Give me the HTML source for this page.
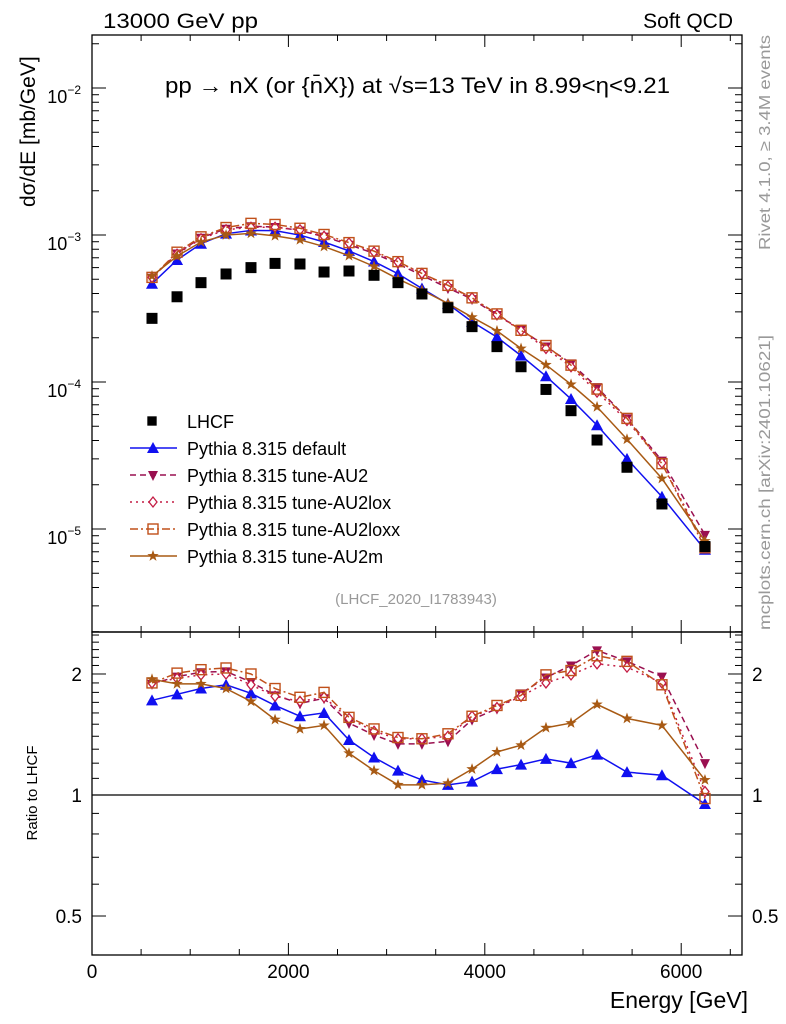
<!DOCTYPE html>
<html><head><meta charset="utf-8"><style>
html,body{margin:0;padding:0;background:#fff}
svg{display:block;font-family:"Liberation Sans",sans-serif}
</style></head><body>
<svg id="chart" width="786" height="1024" viewBox="0 0 786 1024" xmlns="http://www.w3.org/2000/svg">
<g id="frame"></g>
<g id="marks"></g>
<text x="103" y="28" font-size="21" textLength="155" lengthAdjust="spacingAndGlyphs">13000 GeV pp</text>
<text x="733" y="28" font-size="21" text-anchor="end">Soft QCD</text>
<text x="165" y="93" font-size="22" textLength="505" lengthAdjust="spacingAndGlyphs">pp → nX (or {n̄X}) at √s=13 TeV in 8.99&lt;η&lt;9.21</text>
<text x="416" y="604" font-size="15" fill="#999" text-anchor="middle">(LHCF_2020_I1783943)</text>
<text transform="translate(35,207) rotate(-90)" font-size="21">dσ/dE [mb/GeV]</text>
<text transform="translate(37,793) rotate(-90)" font-size="15" text-anchor="middle">Ratio to LHCF</text>
<text x="748" y="1008" font-size="23" text-anchor="end">Energy [GeV]</text>
<text transform="translate(770,250) rotate(-90)" font-size="16" fill="#999" textLength="215" lengthAdjust="spacingAndGlyphs">Rivet 4.1.0, ≥ 3.4M events</text>
<text transform="translate(770,630) rotate(-90)" font-size="16" fill="#999" textLength="295" lengthAdjust="spacingAndGlyphs">mcplots.cern.ch [arXiv:2401.10621]</text>
<g id="legend"></g>
</svg>
<script>
const energies=[611,866,1110,1365,1619,1864,2118,2363,2617,2872,3116,3360,3625,3870,4124,4369,4623,4878,5143,5448,5804,6242];
const lhcf=[2.71e-4,3.80e-4,4.74e-4,5.43e-4,6.00e-4,6.41e-4,6.35e-4,5.60e-4,5.69e-4,5.32e-4,4.74e-4,3.97e-4,3.20e-4,2.38e-4,1.74e-4,1.27e-4,8.9e-5,6.38e-5,4.03e-5,2.63e-5,1.48e-5,7.6e-6];
const ratioDefault=[1.72,1.78,1.84,1.88,1.79,1.67,1.57,1.60,1.37,1.24,1.15,1.09,1.06,1.08,1.16,1.19,1.23,1.20,1.26,1.14,1.12,0.95];
const ratioAU2=[1.89,1.97,2.02,2.03,1.91,1.77,1.69,1.74,1.51,1.41,1.34,1.34,1.36,1.54,1.64,1.79,1.96,2.10,2.29,2.15,1.97,1.20];
const ratioAU2lox=[1.90,1.95,1.99,2.00,1.88,1.76,1.71,1.75,1.55,1.44,1.38,1.38,1.40,1.57,1.65,1.76,1.90,1.99,2.12,2.08,1.90,1.02];
const ratioAU2loxx=[1.90,2.01,2.05,2.07,2.00,1.84,1.75,1.80,1.56,1.46,1.39,1.38,1.42,1.57,1.67,1.77,1.99,2.04,2.22,2.15,1.88,0.98];
const ratioAU2m=[1.94,1.89,1.89,1.84,1.71,1.54,1.46,1.49,1.27,1.15,1.06,1.06,1.07,1.16,1.28,1.33,1.47,1.51,1.68,1.55,1.49,1.09];
const xTicks=[0,2000,4000,6000];
const yTicks=[-2,-3,-4,-5];
const rTicks=[0.5,1,2];

const NS="http://www.w3.org/2000/svg";
const L=92,R=742,T=35,M=632,B=955;
const xs=e=>L+e*0.0982;
const ys=v=>235-147*(Math.log10(v)+3);
const yr=r=>795-402*Math.log10(r);
function mk(tag,at,parent){const e=document.createElementNS(NS,tag);for(const k in at)e.setAttribute(k,at[k]);parent.appendChild(e);return e;}
const frame=document.getElementById('frame'),marks=document.getElementById('marks'),legend=document.getElementById('legend');

let r1=mk('rect',{x:L,y:T,width:R-L,height:M-T,fill:'none',stroke:'#000','stroke-width':1.3},frame);


let r2=mk('rect',{x:L,y:M,width:R-L,height:B-M,fill:'none',stroke:'#000','stroke-width':1.3},frame);


for(let e=0;e<=6500;e+=500){
  const x=xs(e),len=(e%2000===0)?12:6;
  for(const [y0,d] of [[T,1],[M,-1],[M,1],[B,-1]]){
    let t=mk('line',{x1:x,x2:x,y1:y0,y2:y0+d*len,stroke:'#000'},frame);
    
    
  }
}
xTicks.forEach(e=>{let t=mk('text',{x:xs(e),y:978,'font-size':19,'text-anchor':'middle'},frame);t.textContent=e;
  
  });
for(let d=-6;d<=-1;d++){for(let m=1;m<=9;m++){
  const y=ys(m*Math.pow(10,d));if(y<T||y>M)continue;const len=m===1?14:7;
  for(const [x0,s] of [[L,1],[R,-1]]){let t=mk('line',{x1:x0,x2:x0+s*len,y1:y,y2:y,stroke:'#000'},frame);
    
    }
}}
yTicks.forEach(d=>{const y=ys(Math.pow(10,d));let t=mk('text',{x:81,y:y+15,'font-size':18,'text-anchor':'end'},frame);t.textContent='10';
  let s=mk('tspan',{dy:-9,'font-size':12},t);s.textContent='−'+(-d);
  
  });
for(let v=0.4;v<=2.55;v+=0.1){const vv=Math.round(v*10)/10;const y=yr(vv);if(y<M||y>B)continue;
  const maj=rTicks.includes(vv);const len=maj?14:7;
  for(const [x0,s] of [[L,1],[R,-1]]){let t=mk('line',{x1:x0,x2:x0+s*len,y1:y,y2:y,stroke:'#000'},frame);
    
    }}
rTicks.forEach(v=>{for(const [x,a] of [[82,'end'],[752,'start']]){let t=mk('text',{x:x,y:yr(v)+7,'font-size':19,'text-anchor':a},frame);t.textContent=v;
  
  }});
let one=mk('line',{x1:L,x2:R,y1:yr(1),y2:yr(1),stroke:'#000','stroke-width':1.2},frame);



function marker(type,x,y,color,parent,sz){
  sz=sz||1;let e;
  if(type==='sq')e=mk('rect',{x:x-5.5*sz,y:y-5.5*sz,width:11*sz,height:11*sz,fill:'#000'},parent);
  else if(type==='tri')e=mk('polygon',{points:`${x},${y-6} ${x-6},${y+5} ${x+6},${y+5}`,fill:color},parent);
  else if(type==='dtri')e=mk('polygon',{points:`${x},${y+6} ${x-5},${y-4} ${x+5},${y-4}`,fill:color},parent);
  else if(type==='dia')e=mk('polygon',{points:`${x},${y-5} ${x+4},${y} ${x},${y+5} ${x-4},${y}`,fill:'#fff',stroke:color,'stroke-width':1.3},parent);
  else if(type==='osq')e=mk('rect',{x:x-5,y:y-5,width:10,height:10,fill:'none',stroke:color,'stroke-width':1.4},parent);
  else {let p='';for(let i=0;i<10;i++){const rr=i%2?2.4:6,a=-Math.PI/2+i*Math.PI/5;p+=`${x+rr*Math.cos(a)},${y+rr*Math.sin(a)} `;}
    e=mk('polygon',{points:p,fill:color},parent);}
  return e;
}
const series=[
 {name:'Pythia 8.315 default',key:'default',r:ratioDefault,c:'#1010f0',m:'tri',dash:''},
 {name:'Pythia 8.315 tune-AU2',key:'au2',r:ratioAU2,c:'#9a1050',m:'dtri',dash:'6,4'},
 {name:'Pythia 8.315 tune-AU2lox',key:'au2lox',r:ratioAU2lox,c:'#c41c44',m:'dia',dash:'2,4'},
 {name:'Pythia 8.315 tune-AU2loxx',key:'au2loxx',r:ratioAU2loxx,c:'#c0501a',m:'osq',dash:'8,3,2,3'},
 {name:'Pythia 8.315 tune-AU2m',key:'au2m',r:ratioAU2m,c:'#a85a14',m:'star',dash:''}
];
series.forEach(s=>{
  const g=mk('g',{},marks);
  
  
  const ptsMain=energies.map((e,i)=>`${xs(e)},${ys(lhcf[i]*s.r[i])}`).join(' ');
  const ptsR=energies.map((e,i)=>`${xs(e)},${yr(s.r[i])}`).join(' ');
  let l1=mk('polyline',{points:ptsMain,fill:'none',stroke:s.c,'stroke-width':1.5,'stroke-dasharray':s.dash},g);
  
  
  let l2=mk('polyline',{points:ptsR,fill:'none',stroke:s.c,'stroke-width':1.5,'stroke-dasharray':s.dash},g);
  
  
  energies.forEach((e,i)=>{
    let a=marker(s.m,xs(e),ys(lhcf[i]*s.r[i]),s.c,g);
    
    
    let b=marker(s.m,xs(e),yr(s.r[i]),s.c,g);
    
    
  });
});
energies.forEach((e,i)=>{let p=marker('sq',xs(e),ys(lhcf[i]),'#000',marks);
  
  });

const ly=[421,448,475,502,529,556];
let lg=mk('g',{},legend);


marker('sq',152,ly[0],'#000',lg,0.85);
let lt=mk('text',{x:187,y:ly[0]+7,'font-size':18},lg);lt.textContent='LHCF';
series.forEach((s,i)=>{
  const g=mk('g',{},legend);
  
  
  mk('line',{x1:130,x2:177,y1:ly[i+1],y2:ly[i+1],stroke:s.c,'stroke-width':1.5,'stroke-dasharray':s.dash},g);
  marker(s.m,153,ly[i+1],s.c,g);
  const t=mk('text',{x:187,y:ly[i+1]+7,'font-size':18},g);t.textContent=s.name;
});
</script>
</body></html>
